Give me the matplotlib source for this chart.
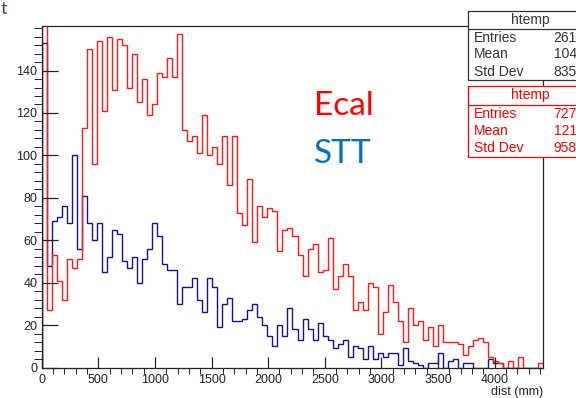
import numpy as np
import matplotlib.pyplot as plt
from matplotlib.patches import Rectangle

# dist (mm) histograms, 100 bins over the htemp range
x_max = 4430
ecal = [1160, 27, 53, 41, 32, 51, 47, 51, 113, 150,
        96, 154, 121, 156, 131, 155, 152, 132, 148, 125,
        136, 119, 124, 139, 137, 146, 137, 157, 112, 107,
        109, 101, 119, 100, 104, 96, 109, 86, 109, 73,
        67, 89, 59, 76, 71, 75, 74, 55, 65, 66,
        62, 53, 43, 56, 58, 45, 46, 61, 37, 43,
        49, 43, 27, 31, 27, 40, 38, 16, 26, 39,
        31, 22, 12, 28, 20, 22, 13, 19, 10, 20,
        12, 12, 12, 11, 6, 10, 13, 14, 12, 5,
        3, 2, 0, 3, 0, 5, 0, 0, 0, 2]
stt = [153, 48, 69, 71, 76, 68, 100, 56, 81, 68,
       60, 68, 45, 52, 65, 63, 50, 47, 52, 40,
       51, 56, 68, 62, 49, 46, 46, 30, 38, 38,
       42, 32, 26, 42, 38, 19, 30, 33, 22, 22,
       23, 27, 30, 24, 20, 15, 10, 20, 15, 28,
       18, 13, 23, 18, 13, 21, 15, 13, 9, 11,
       13, 5, 10, 9, 4, 10, 4, 7, 5, 7,
       7, 1, 9, 3, 2, 1, 0, 2, 2, 7,
       0, 3, 4, 0, 2, 2, 0, 0, 0, 4,
       2, 2, 0, 0, 0, 0, 0, 0, 0, 0]

stats_black = [('Entries', '261'), ('Mean', '104'), ('Std Dev', '835')]
stats_red = [('Entries', '727'), ('Mean', '121'), ('Std Dev', '958')]

W, H = 576, 398


def px(x, y):
    return x / W, 1 - y / H


plt.rcParams['font.family'] = ['Liberation Sans', 'DejaVu Sans']

fig = plt.figure(figsize=(W / 100, H / 100), dpi=100)
x0, y1 = px(41.7, 367.5)
x1, y0 = px(543.3, 26)
ax = fig.add_axes([x0, y1, x1 - x0, y0 - y1])

edges = np.linspace(0, x_max, len(ecal) + 1)
ax.stairs(stt, edges, color='#12129c', lw=1.0)
ax.stairs(ecal, edges, color='#ff1a1a', lw=1.0)

ax.set_xlim(0, x_max)
ax.set_ylim(0, 161)
ax.set_xticks(np.arange(0, 4001, 500))
ax.set_xticks(np.arange(0, x_max, 100), minor=True)
ax.set_yticks(np.arange(0, 141, 20))
ax.set_yticks(np.arange(0, 161, 4), minor=True)
ax.tick_params(axis='both', direction='in', labelsize=9, colors='#222222', width=0.9)
ax.tick_params(axis='x', which='major', length=8, pad=5)
ax.tick_params(axis='x', which='minor', length=4.5)
ax.tick_params(axis='y', which='major', length=11.5, pad=3)
ax.tick_params(axis='y', which='minor', length=5.8)
for s in ax.spines.values():
    s.set_color('#222222')
    s.set_linewidth(0.9)

fig.text(*px(543, 392), 'dist (mm)', ha='right', va='center', fontsize=9, color='#222222')

# legend text from the slide
fig.text(*px(314, 115), 'Ecal', color='#ff0000', fontsize=24, family='Lato', va='baseline')
fig.text(*px(314, 163), 'STT', color='#0070c0', fontsize=24, family='Lato', va='baseline')
fig.text(*px(1, 14), 't', color='#2f4f70', fontsize=13, family='Lato', va='baseline')


def stats_box(top, bottom, sep, color, rows):
    bx, by = px(468, bottom)
    _, ty = px(468, top)
    fig.add_artist(Rectangle((bx, by), 0.3, ty - by, transform=fig.transFigure,
                             facecolor='white', edgecolor=color, lw=0.9, zorder=5))
    sx, sy = px(468, sep)
    fig.add_artist(plt.Line2D([sx, 1.1], [sy, sy], transform=fig.transFigure,
                              color=color, lw=0.9, zorder=6))
    fig.text(*px(530, (top + sep) / 2), 'htemp', ha='center', va='center',
             fontsize=10, color=color, zorder=7)
    step = (bottom - sep) / 3
    for i, (name, val) in enumerate(rows):
        yy = sep + step * (i + 0.5)
        fig.text(*px(474, yy), name, ha='left', va='center', fontsize=10, color=color, zorder=7)
        fig.text(*px(577, yy), val, ha='right', va='center', fontsize=10, color=color, zorder=7)


stats_box(11, 80, 29, '#333333', stats_black)
stats_box(86, 157, 105, '#ff0000', stats_red)

fig.savefig('out.png', dpi=100)
